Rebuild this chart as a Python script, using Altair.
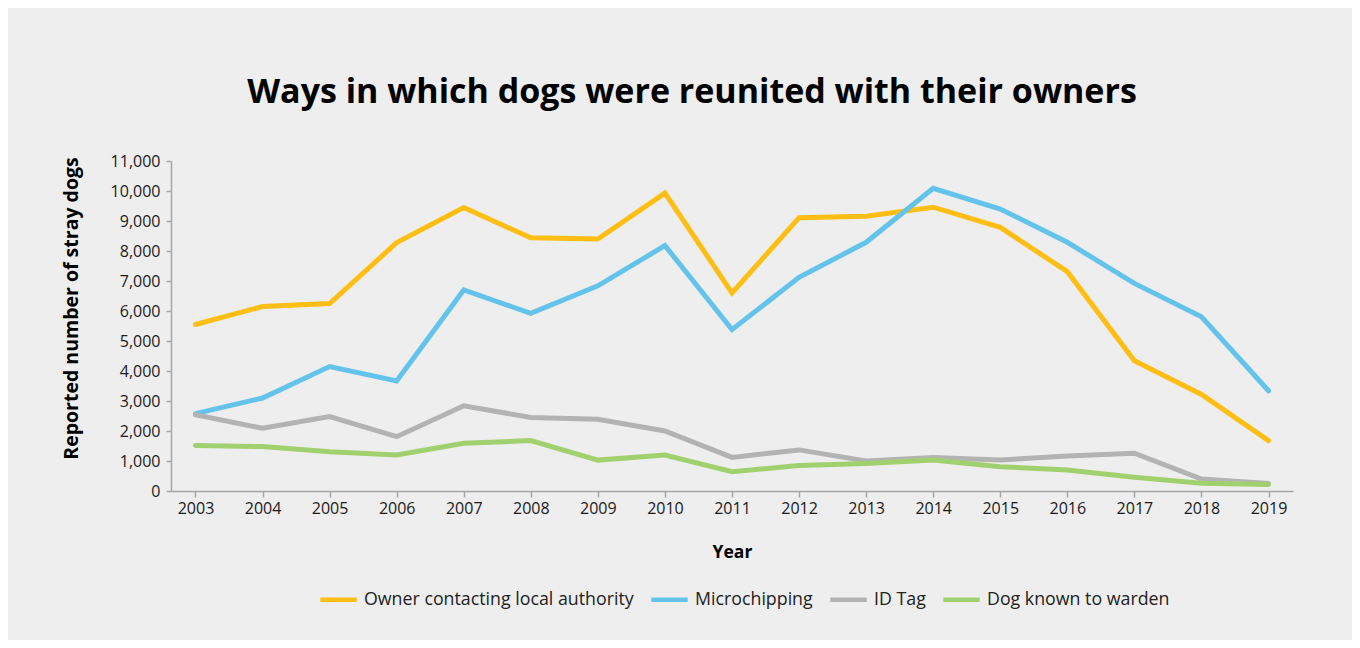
import altair as alt
import pandas as pd

years = [str(y) for y in range(2003, 2020)]
series = ["Owner contacting local authority", "Microchipping", "ID Tag", "Dog known to warden"]
colors = ["#FFBE14", "#64C3EA", "#B3B3B3", "#A1D16E"]

owner = [5550, 6150, 6250, 8280, 9450, 8440, 8400, 9930, 6600, 9110, 9160, 9460, 8790, 7310, 4340, 3220, 1680]
microchip = [2580, 3100, 4150, 3670, 6700, 5920, 6840, 8180, 5380, 7120, 8290, 10090, 9400, 8290, 6920, 5810, 3340]
idtag = [2540, 2090, 2480, 1810, 2840, 2450, 2390, 2000, 1120, 1370, 1000, 1120, 1030, 1170, 1260, 400, 250]
warden = [1520, 1480, 1310, 1200, 1590, 1680, 1030, 1200, 640, 850, 920, 1030, 810, 700, 460, 260, 220]

values = [owner, microchip, idtag, warden]
rows = []
for s, vals in zip(series, values):
    for y, v in zip(years, vals):
        rows.append({"Year": y, "Series": s, "Value": v})
df = pd.DataFrame(rows)

axis_color = "#A6A6A6"
font = "Open Sans"

chart = alt.Chart(df).mark_line(
    strokeWidth=5, strokeCap="round", strokeJoin="miter"
).encode(
    x=alt.X("Year:O", sort=years,
            scale=alt.Scale(type="point", padding=0.365),
            axis=alt.Axis(title="Year", labelAngle=0, tickSize=6, labelPadding=3,
                          titlePadding=27, titleFontSize=17.5, grid=False)),
    y=alt.Y("Value:Q", scale=alt.Scale(domain=[0, 11000], nice=False),
            axis=alt.Axis(title="Reported number of stray dogs",
                          values=list(range(0, 11001, 1000)), format=",.0f",
                          tickSize=5, labelPadding=6, titleFontSize=19.5,
                          titleX=-90, titleY=147, grid=False)),
    color=alt.Color("Series:N", sort=series,
                    scale=alt.Scale(domain=series, range=colors),
                    legend=alt.Legend(title=None, orient="none", direction="horizontal",
                                      legendX=147, legendY=418,
                                      symbolType="stroke", symbolSize=1330,
                                      symbolStrokeWidth=4.5, labelFontSize=17.8,
                                      labelFont=font, labelColor="#222222",
                                      labelLimit=0,
                                      labelOffset=5, columnPadding=8)),
).properties(
    width=1122, height=330,
    autosize=alt.AutoSizeParams(type="none"),
    padding={"left": 163, "top": 153, "right": 59, "bottom": 149},
    background="#EEEEEE",
    title=alt.TitleParams(
        text="Ways in which dogs were reunited with their owners",
        font=font, fontSize=34, fontWeight="bold", color="#000000",
        anchor="middle", dx=-40, offset=43),
).configure_view(stroke=None).configure_axis(
    domainColor=axis_color, tickColor=axis_color, labelFont=font, labelFontSize=16,
    labelColor="#1A1A1A", titleFont=font, titleFontWeight="bold",
    titleColor="#000000", domainWidth=1.5, tickWidth=1.5,
)

chart.save("out.html", embed_options={"renderer": "svg", "actions": False})
